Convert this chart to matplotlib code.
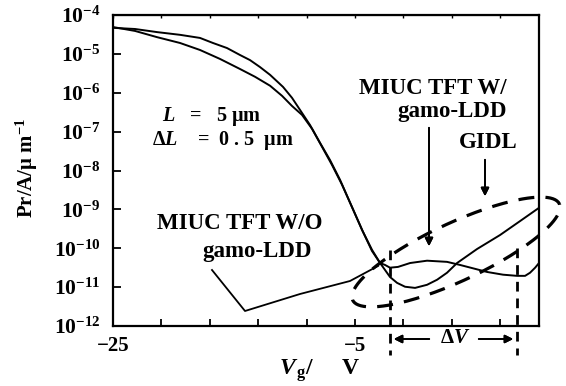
import numpy as np
import matplotlib
matplotlib.use('Agg')
import matplotlib.pyplot as plt
from matplotlib.lines import Line2D

plt.rcParams['font.family'] = ['Liberation Serif', 'DejaVu Serif']
plt.rcParams['font.weight'] = 'bold'
plt.rcParams['mathtext.fontset'] = 'custom'
plt.rcParams['mathtext.rm'] = 'Liberation Serif:bold'
plt.rcParams['mathtext.bf'] = 'Liberation Serif:bold'
plt.rcParams['mathtext.it'] = 'Liberation Serif:italic:bold'

# curve with gamo-LDD (flat hump in off region)
vg_a = [-25.0, -23.18, -21.36, -19.46, -17.81, -16.16, -14.50, -13.26, -12.02, -11.03,
        -10.21, -9.38, -8.55, -7.73, -6.90, -6.07, -5.25, -4.34, -3.60, -2.93,
        -2.52, -2.11, -1.45, -0.45, 0.95, 2.60, 3.68, 4.92, 5.91, 7.23,
        8.39, 9.05, 9.46, 9.88, 10.2]
log_a = [-4.31, -4.41, -4.57, -4.72, -4.90, -5.13, -5.39, -5.59, -5.82, -6.08,
         -6.34, -6.57, -6.93, -7.39, -7.86, -8.37, -8.94, -9.58, -10.07, -10.38,
         -10.43, -10.50, -10.48, -10.38, -10.32, -10.35, -10.43, -10.53, -10.61, -10.68,
         -10.71, -10.71, -10.63, -10.50, -10.38]

# curve without gamo-LDD (GIDL rise)
vg_b = [-25.0, -23.18, -21.36, -19.46, -17.81, -16.74, -15.58, -14.50, -13.68, -12.85,
        -12.02, -10.95, -10.21, -9.55, -8.72, -7.89, -7.07, -6.24, -5.41, -4.42,
        -3.60, -2.93, -2.52, -2.11, -1.53, -0.87, -0.04, 0.95, 1.78, 2.60,
        3.43, 5.08, 6.98, 8.64, 10.2]
log_b = [-4.33, -4.36, -4.44, -4.51, -4.59, -4.72, -4.85, -5.03, -5.16, -5.34,
         -5.54, -5.85, -6.13, -6.44, -6.83, -7.29, -7.73, -8.24, -8.83, -9.53,
         -10.04, -10.38, -10.56, -10.74, -10.89, -10.99, -11.02, -10.94, -10.81, -10.63,
         -10.38, -10.02, -9.66, -9.30, -8.96]

x_ticks = [-25, -21, -17, -13, -9, -5, -1, 3, 7]
x_labels = ['\u221225', '', '', '', '', '\u22125', '', '', '']
y_exps = [-4, -5, -6, -7, -8, -9, -10, -11, -12]

W, H = 566, 386
fig = plt.figure(figsize=(W / 100, H / 100), dpi=100)
ax = fig.add_axes([113 / W, (H - 326) / H, 426 / W, 311 / H])


def fp(px, py):
    # pixel position -> figure fraction
    return px / W, 1 - py / H


ax.semilogy(vg_a, 10.0 ** np.array(log_a), color='black', lw=1.4)
ax.semilogy(vg_b, 10.0 ** np.array(log_b), color='black', lw=1.4)

ax.set_xlim(-25, 10.2)
ax.set_ylim(1e-12, 1e-4)
ax.set_xticks(x_ticks, x_labels)
ax.set_yticks([10.0 ** e for e in y_exps], [r'$\mathregular{10^{%d}}$' % e for e in y_exps])
ax.minorticks_off()
ax.tick_params(axis='x', direction='in', length=5, width=1.3, labelsize=15, pad=7)
ax.tick_params(axis='y', direction='in', length=6, width=1.3, labelsize=15.5, pad=9)
for s in ax.spines.values():
    s.set_linewidth(1.6)
top = ax.secondary_xaxis('top')
top.set_xticks(x_ticks, [])
top.tick_params(direction='in', length=2, width=1)

# axis labels
fig.text(*fp(27, 168), 'Pr/A/\u03bc m$^{-1}$', rotation=90, fontsize=15,
         ha='center', va='center')
fig.text(*fp(279, 371), r'$V_{\,\mathrm{g}}$/     V', fontsize=17, ha='left', va='center')

# inner texts
fig.text(*fp(162, 117), '$L$   =   5 \u03bcm', fontsize=14.5, ha='left', va='center')
fig.text(*fp(152, 141), '\u0394$L$    =  0 . 5  \u03bcm', fontsize=14.5, ha='left', va='center')
fig.text(*fp(507, 88), 'MIUC TFT W/', fontsize=16.5, ha='right', va='center')
fig.text(*fp(507, 111), 'gamo-LDD', fontsize=16.5, ha='right', va='center')
fig.text(*fp(488, 143), 'GIDL', fontsize=16.5, ha='center', va='center')
fig.text(*fp(240, 223), 'MIUC TFT W/O', fontsize=16.5, ha='center', va='center')
fig.text(*fp(257, 251), 'gamo-LDD', fontsize=16.5, ha='center', va='center')

# leader line for W/O label
lead = [fp(212, 270), fp(245, 311), fp(300, 294), fp(350, 281), fp(378, 266)]
fig.add_artist(Line2D([p[0] for p in lead], [p[1] for p in lead], color='black',
                      lw=1.3, transform=fig.transFigure))

# arrows
arrow = dict(arrowstyle='-|>', color='black', lw=1.3, mutation_scale=12)
fig.add_artist(plt.annotate('', xy=fp(429, 249), xytext=fp(429, 125),
                            xycoords='figure fraction', arrowprops=arrow))
fig.add_artist(plt.annotate('', xy=fp(485, 199), xytext=fp(485, 157),
                            xycoords='figure fraction', arrowprops=arrow))

# GIDL dashed ellipse
t = np.linspace(0, 2 * np.pi, 200)
ang = np.deg2rad(25)
cx, cy, a, b = 456, 252, 114, 29
ex = cx + a * np.cos(t) * np.cos(ang) - b * np.sin(t) * np.sin(ang)
ey = cy - a * np.cos(t) * np.sin(ang) - b * np.sin(t) * np.cos(ang)
fig.add_artist(Line2D(ex / W, 1 - ey / H, color='black', lw=2.3,
                      dashes=(5, 3.5), transform=fig.transFigure))

# vertical dashed markers and delta V
for xv, y1 in [(390, 250), (517, 248)]:
    fig.add_artist(Line2D([xv / W, xv / W], [1 - y1 / H, 1 - 355 / H], color='black',
                          lw=2.0, dashes=(3.5, 2.5), transform=fig.transFigure))
fig.add_artist(plt.annotate('', xy=fp(391, 339), xytext=fp(432, 339),
                            xycoords='figure fraction', arrowprops=arrow))
fig.add_artist(plt.annotate('', xy=fp(516, 339), xytext=fp(476, 339),
                            xycoords='figure fraction', arrowprops=arrow))
fig.text(*fp(455, 338), '\u0394$V$', fontsize=15, ha='center', va='center')

fig.savefig('out.png', dpi=100)
